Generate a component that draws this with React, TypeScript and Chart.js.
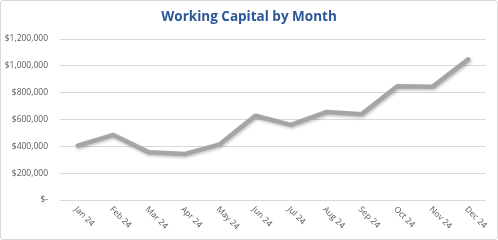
import React, { useEffect, useRef } from "react";
import { Chart, registerables } from "chart.js";

Chart.register(...registerables);

const months = ["Jan 24", "Feb 24", "Mar 24", "Apr 24", "May 24", "Jun 24", "Jul 24", "Aug 24", "Sep 24", "Oct 24", "Nov 24", "Dec 24"];
const workingCapital = [405000, 485000, 355000, 342000, 415000, 628000, 560000, 655000, 640000, 848000, 845000, 1048000];
const titleText = "Working Capital by Month";
const yMin = 0;
const yMax = 1200000;
const yStep = 200000;

const FONT = "'Open Sans', 'Liberation Sans', sans-serif";

export default function App() {
  const ref = useRef<HTMLCanvasElement | null>(null);

  useEffect(() => {
    document.body.style.margin = "0";
    const canvas = ref.current;
    if (!canvas) return;

    const titlePlugin = {
      id: "customTitle",
      afterDraw(chart: any) {
        const ctx = chart.ctx;
        ctx.save();
        ctx.fillStyle = "#2B5797";
        ctx.font = `bold 13.5px ${FONT}`;
        ctx.textAlign = "center";
        ctx.textBaseline = "middle";
        ctx.fillText(titleText, chart.width / 2, 16);
        ctx.restore();
      },
    };

    const xLabelPlugin = {
      id: "xLabels",
      afterDraw(chart: any) {
        const ctx = chart.ctx;
        const xs = chart.scales.x;
        const bottom = chart.chartArea.bottom;
        ctx.save();
        ctx.fillStyle = "#595959";
        ctx.font = `8.5px ${FONT}`;
        ctx.textAlign = "left";
        ctx.textBaseline = "middle";
        months.forEach((m, i) => {
          const px = xs.getPixelForTick(i);
          ctx.save();
          ctx.translate(px - 2, bottom + 8);
          ctx.rotate(Math.PI / 4);
          ctx.fillText(m, 0, 0);
          ctx.restore();
        });
        ctx.restore();
      },
    };

    const shadowPlugin = {
      id: "lineShadow",
      beforeDatasetDraw(chart: any) {
        const ctx = chart.ctx;
        ctx.save();
        ctx.shadowColor = "rgba(0,0,0,0.25)";
        ctx.shadowBlur = 3;
        ctx.shadowOffsetX = 1;
        ctx.shadowOffsetY = 1.5;
      },
      afterDatasetDraw(chart: any) {
        chart.ctx.restore();
      },
    };

    const chart = new Chart(canvas, {
      type: "line",
      data: {
        labels: months,
        datasets: [
          {
            label: "Working Capital",
            data: workingCapital,
            borderColor: "#A5A5A5",
            borderWidth: 4.5,
            pointRadius: 0,
            pointHoverRadius: 0,
            tension: 0,
            fill: false,
            borderJoinStyle: "round",
            borderCapStyle: "round",
          },
        ],
      },
      options: {
        animation: false,
        responsive: false,
        maintainAspectRatio: false,
        layout: { padding: { top: 38, right: 11, left: 0, bottom: 0 } },
        plugins: {
          legend: { display: false },
          title: { display: false },
          tooltip: { enabled: false },
        },
        scales: {
          x: {
            offset: true,
            grid: { display: false },
            border: { display: false },
            ticks: { display: false },
            afterFit(scale: any) {
              scale.height = 39;
            },
          },
          y: {
            min: yMin,
            max: yMax,
            ticks: {
              stepSize: yStep,
              color: "#595959",
              font: { family: FONT, size: 8.5 },
              padding: 12,
              callback: (v: any) => (Number(v) === 0 ? "$-" : "$" + Number(v).toLocaleString("en-US")),
            },
            grid: { color: "#D9D9D9", lineWidth: 1, drawTicks: false },
            border: { display: false },
            afterFit(scale: any) {
              scale.width = 59;
            },
          },
        },
      },
      plugins: [titlePlugin, xLabelPlugin, shadowPlugin],
    });

    return () => chart.destroy();
  }, []);

  return (
    <div
      style={{
        width: 498,
        height: 240,
        boxSizing: "border-box",
        border: "1px solid #D9D9D9",
        borderRadius: 3,
        background: "#fff",
        overflow: "hidden",
      }}
    >
      <canvas ref={ref} width={496} height={238} style={{ display: "block" }} />
    </div>
  );
}
